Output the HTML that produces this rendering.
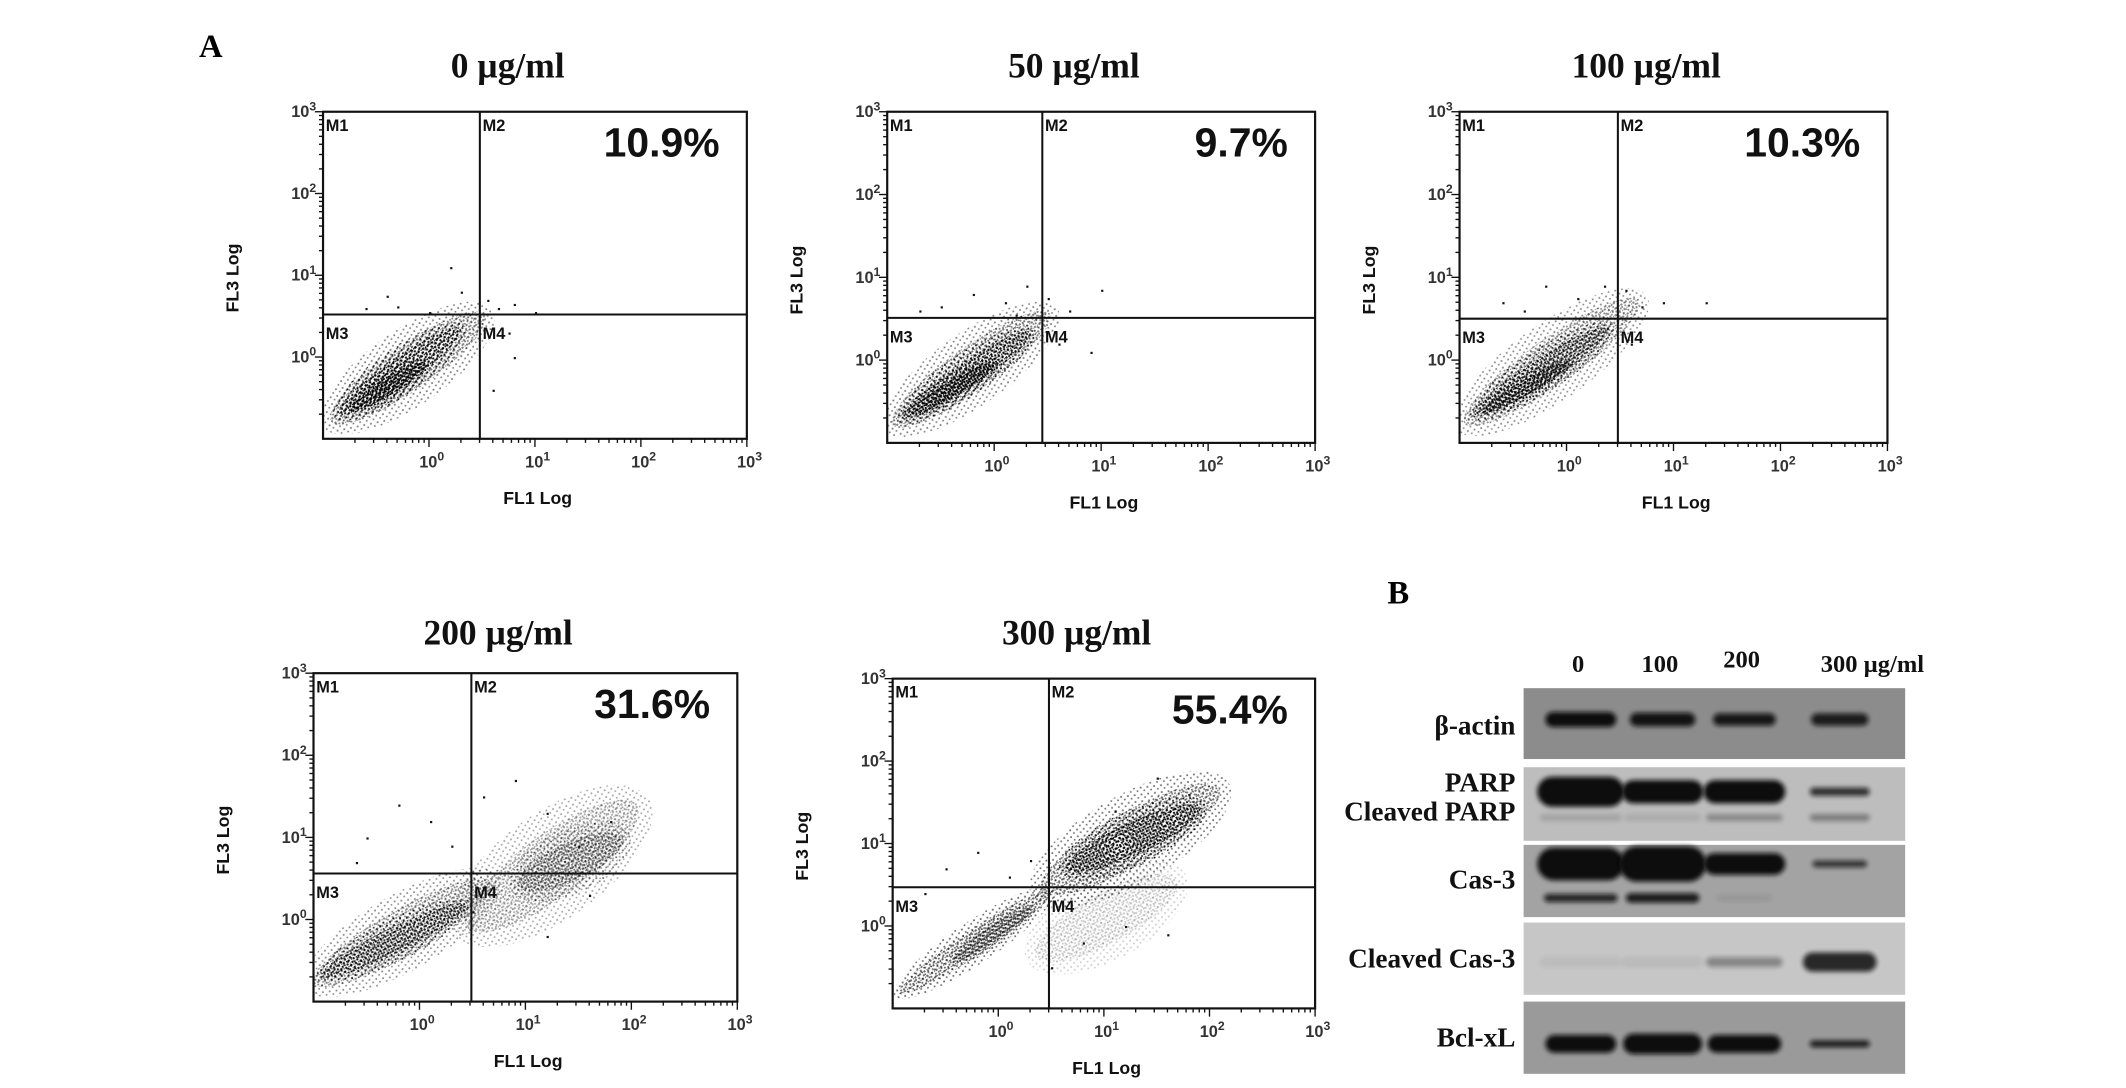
<!DOCTYPE html>
<html><head><meta charset="utf-8"><style>
html,body{margin:0;padding:0;background:#fff;}
svg{display:block;}
.serif{font-family:"Liberation Serif",serif;font-weight:bold;}
.sans{font-family:"Liberation Sans",sans-serif;font-weight:bold;}
</style></head><body>
<svg id="fig" xmlns="http://www.w3.org/2000/svg" width="2126" height="1088" viewBox="0 0 1560 798.4">
<defs>
<pattern id="stip" width="4" height="4" patternUnits="userSpaceOnUse">
<rect x="0" y="0" width="1.5" height="1.5" fill="#000"/><rect x="2.1" y="2.2" width="1.3" height="1.3" fill="#000"/><rect x="2.6" y="0.3" width="0.9" height="0.9" fill="#000"/>
</pattern>
<pattern id="stip2" width="5" height="5" patternUnits="userSpaceOnUse" patternTransform="rotate(23)">
<rect x="0.5" y="0.5" width="1.3" height="1.3" fill="#000"/><rect x="3" y="2.8" width="1.2" height="1.2" fill="#000"/>
</pattern>
<filter id="bandblur" x="-30%" y="-100%" width="160%" height="300%"><feGaussianBlur stdDeviation="1.8"/></filter>
</defs>
<text class="serif" x="146" y="42" font-size="24">A</text>
<text class="serif" x="1018" y="443" font-size="24">B</text>
<g id="plots"></g>
<g id="blot"></g>
</svg>
<script>
const NS="http://www.w3.org/2000/svg";
// ---- flow cytometry data (log10 units) ----
const plotTitles=["0 µg/ml","50 µg/ml","100 µg/ml","200 µg/ml","300 µg/ml"];
const percentLabels=["10.9%","9.7%","10.3%","31.6%","55.4%"];
const gateX=[0.48,0.45,0.48,0.49,0.48];
const gateY=[0.52,0.51,0.50,0.56,0.47];
// populations: [x1,y1,x2,y2,width(decades),density]
const pop0=[[-0.85,-0.72,0.45,0.45,0.36,0.5],[-0.8,-0.65,0.25,0.3,0.22,0.9],[-0.7,-0.6,-0.05,-0.1,0.14,1]];
const pop50=[[-0.88,-0.72,0.45,0.5,0.34,0.5],[-0.82,-0.66,0.3,0.3,0.2,0.9],[-0.75,-0.62,0.0,-0.05,0.12,1]];
const pop100=[[-0.88,-0.7,0.6,0.65,0.36,0.45],[-0.82,-0.62,0.35,0.35,0.2,0.85],[-0.75,-0.6,0.0,-0.05,0.12,0.9]];
const pop200=[[-0.92,-0.72,0.6,0.4,0.36,0.45],[-0.88,-0.66,0.4,0.15,0.2,0.85],[0.55,0.0,1.95,1.3,0.5,0.35],[1.0,0.45,1.85,0.95,0.3,0.55]];
const pop300=[[-0.9,-0.78,0.45,0.38,0.2,0.6],[-0.4,-0.4,0.3,0.2,0.12,0.7],[0.45,-0.3,1.6,0.5,0.4,0.2],[0.5,0.5,2.0,1.6,0.42,0.55],[0.7,0.72,1.85,1.4,0.26,0.95]];
const populations=[pop0,pop50,pop100,pop200,pop300];
// sparse events [x,y]
const sparse0=[[-0.6,0.6],[-0.3,0.62],[0.0,0.55],[0.2,1.1],[-0.4,0.75],[0.3,0.8],[0.55,0.7],[0.65,0.6],[0.8,0.65],[1.0,0.55],[0.75,0.3],[0.6,-0.4],[0.8,0.0]];
const sparse50=[[-0.5,0.65],[-0.2,0.8],[0.1,0.7],[0.3,0.9],[0.5,0.75],[0.7,0.6],[1.0,0.85],[-0.7,0.6],[0.2,0.55],[0.6,0.2],[0.9,0.1]];
const sparse100=[[-0.6,0.7],[-0.2,0.9],[0.1,0.75],[0.35,0.9],[0.55,0.85],[0.7,0.65],[0.9,0.7],[1.3,0.7],[0.6,0.2],[-0.4,0.6]];
const sparse200=[[-0.5,1.0],[-0.2,1.4],[0.1,1.2],[0.3,0.9],[0.6,1.5],[0.9,1.7],[1.2,1.3],[1.5,0.9],[1.8,1.2],[0.5,0.1],[1.2,-0.2],[1.6,0.3],[-0.6,0.7]];
const sparse300=[[-0.5,0.7],[-0.2,0.9],[0.1,0.6],[0.3,0.8],[-0.7,0.4],[1.5,1.8],[1.8,1.6],[1.1,1.4],[0.8,-0.2],[1.2,0.0],[1.6,-0.1],[0.5,-0.5]];
const sparseEvents=[sparse0,sparse50,sparse100,sparse200,sparse300];
const decadeLabels=["-1","0","1","2","3"];
// layout (thumbnail units)
const boxes=[[237,82,311,240],[651,82,314,243],[1071,82,314,243],[230,494,311,241],[655,498,310,242]];
const titleY=[57,57,57,473,473];

function mk(tag,attrs,parent,name,inter){const e=document.createElementNS(NS,tag);for(const k in attrs)e.setAttribute(k,attrs[k]);


parent.appendChild(e);return e;}
const plotsG=document.getElementById('plots');
boxes.forEach((b,i)=>{
  const [L,T,W,H]=b;const B=T+H;
  const sx=v=>L+(v+1)/4*W, sy=v=>B-(v+1)/4*H;
  const g=mk('g',{},plotsG,'flow-plot-'+i,false);
  const clipId='clip'+i;
  const cp=mk('clipPath',{id:clipId},g,'plot-clip',false);
  mk('rect',{x:L,y:T,width:W,height:H},cp,'clip-rect',false);
  const dg=mk('g',{'clip-path':'url(#'+clipId+')'},g,'event-layer',false);
  populations[i].forEach(p=>{
    const x1=sx(p[0]),y1=sy(p[1]),x2=sx(p[2]),y2=sy(p[3]);
    const cx=(x1+x2)/2,cy=(y1+y2)/2,len=Math.hypot(x2-x1,y2-y1);
    const ang=Math.atan2(y2-y1,x2-x1)*180/Math.PI;const w=p[4]*W/4;
    mk('ellipse',{cx:cx,cy:cy,rx:len/2+w*0.5,ry:w,transform:`rotate(${ang} ${cx} ${cy})`,fill:'url(#stip2)',opacity:Math.min(1,p[5])},dg,'event-population',false);
    mk('ellipse',{cx:cx,cy:cy,rx:len/2+w*0.25,ry:w*0.6,transform:`rotate(${ang} ${cx} ${cy})`,fill:'url(#stip)',opacity:p[5]},dg,'event-population-core',false);
  });
  sparseEvents[i].forEach(pt=>{mk('rect',{x:sx(pt[0]),y:sy(pt[1]),width:1.6,height:1.6,fill:'#111'},dg,'event-dot',false);});
  mk('rect',{x:L,y:T,width:W,height:H,fill:'none',stroke:'#111','stroke-width':1.6},g,'plot-frame',false);
  mk('line',{x1:sx(gateX[i]),x2:sx(gateX[i]),y1:T,y2:B,stroke:'#111','stroke-width':1.5},g,'gate-vertical',true);
  mk('line',{x1:L,x2:L+W,y1:sy(gateY[i]),y2:sy(gateY[i]),stroke:'#111','stroke-width':1.5},g,'gate-horizontal',true);
  for(let d=-1;d<3;d++){for(let m=1;m<10;m++){const v=d+Math.log10(m);if(v<=-1)continue;
    const len=m===1?6:3;
    mk('line',{x1:L,x2:L-len,y1:sy(v),y2:sy(v),stroke:'#111','stroke-width':1},g,'y-tick',false);
    mk('line',{x1:sx(v),x2:sx(v),y1:B,y2:B+len,stroke:'#111','stroke-width':1},g,'x-tick',false);}}
  mk('line',{x1:L,x2:L-6,y1:T,y2:T,stroke:'#111','stroke-width':1},g,'y-tick',false);
  mk('line',{x1:L+W,x2:L+W,y1:B,y2:B+6,stroke:'#111','stroke-width':1},g,'x-tick',false);
  decadeLabels.forEach((lab,k)=>{const v=+lab;if(v<0)return;
    const ty=mk('text',{x:L-5,y:sy(v)+4,'text-anchor':'end','font-size':12,class:'sans',fill:'#333'},g,'y-tick-label',false);
    ty.innerHTML='10<tspan dy="-5" font-size="9">'+lab+'</tspan>';
    const tx=mk('text',{x:sx(v)+2,y:B+21,'text-anchor':'middle','font-size':12,class:'sans',fill:'#333'},g,'x-tick-label',false);
    tx.innerHTML='10<tspan dy="-5" font-size="9">'+lab+'</tspan>';
  });
  const qy=sy(gateY[i]);
  [['M1',L+2,T+14],['M2',sx(gateX[i])+2,T+14],['M3',L+2,qy+18],['M4',sx(gateX[i])+2,qy+18]].forEach(q=>{
    const t=mk('text',{x:q[1],y:q[2],'font-size':12,class:'sans',fill:'#111'},g,'gate-label-'+q[0].toLowerCase(),false);t.textContent=q[0];});
  const pc=mk('text',{x:L+W-20,y:T+33,'text-anchor':'end','font-size':30,class:'sans',fill:'#111'},g,'percent-label',false);pc.textContent=percentLabels[i];
  const tt=mk('text',{x:L+W/2-20,y:titleY[i],'text-anchor':'middle','font-size':26,class:'serif',fill:'#111'},g,'plot-title',false);tt.textContent=plotTitles[i];
  const xl=mk('text',{x:L+W/2+2,y:B+48,'text-anchor':'middle','font-size':13,class:'sans',fill:'#111'},g,'x-axis-title',false);xl.textContent='FL1 Log';
  const yl=mk('text',{x:0,y:0,'text-anchor':'middle','font-size':13,class:'sans',fill:'#111',transform:`translate(${L-62},${T+H/2+2}) rotate(-90)`},g,'y-axis-title',false);yl.textContent='FL3 Log';
});

// ---- western blot ----
const laneLabels=["0","100","200","300 µg/ml"];
const rowNames=["β-actin","PARP","Cas-3","Cleaved Cas-3","Bcl-xL"];
const bandActin=[1,0.95,0.92,0.88];
const bandParp=[1,1,1,0.8];
const bandParpCleaved=[0.15,0.1,0.3,0.38];
const bandCas3=[1,1,1,0.75];
const bandCas3Low=[0.85,0.9,0.08,0];
const bandCleavedCas3=[0.05,0.06,0.35,0.85];
const bandBcl=[1,1,1,0.9];
const blotG=document.getElementById('blot');
const laneX=[1160,1220,1280,1350];
const rows=[[505,557,'#8c8c8c'],[563,617,'#bdbdbd'],[620,673,'#a3a3a3'],[677,730,'#c6c6c6'],[735,788,'#9a9a9a']];
rows.forEach((r,i)=>{mk('rect',{x:1118,y:r[0],width:280,height:r[1]-r[0],fill:r[2]},blotG,'blot-panel-'+i,false);});
laneLabels.forEach((l,i)=>{const t=mk('text',{x:i===3?1374:laneX[i]-2,y:i===2?490:493,'text-anchor':'middle','font-size':18,class:'serif',fill:'#111'},blotG,'lane-label',false);t.textContent=l;});
[["β-actin",539],["PARP",581],["Cleaved PARP",602],["Cas-3",652],["Cleaved Cas-3",710],["Bcl-xL",768]].forEach(r=>{
  const t=mk('text',{x:1112,y:r[1],'text-anchor':'end','font-size':20,class:'serif',fill:'#111'},blotG,'row-label',false);t.textContent=r[0];});
function bands(vals,cy,thick,widths,name){vals.forEach((v,i)=>{if(v<=0)return;
  mk('rect',{x:laneX[i]-widths[i]/2,y:cy-thick[i]/2,width:widths[i],height:thick[i],rx:thick[i]/2,fill:'#0d0d0d',opacity:v,filter:'url(#bandblur)'},blotG,name,false);});}
bands(bandActin,528,[11,10,9,9],[52,48,46,42],'band-actin');
bands(bandParp,581,[22,17,17,6],[64,60,60,44],'band-parp');
bands(bandParpCleaved,600,[5,5,5,5],[60,56,56,44],'band-cleaved-parp');
bands(bandCas3,634,[24,26,16,5],[64,64,60,40],'band-cas3');
bands(bandCas3Low,659,[6,7,5,5],[54,54,40,40],'band-cas3-lower');
bands(bandCleavedCas3,706,[8,8,7,14],[60,60,56,54],'band-cleaved-cas3');
bands(bandBcl,766,[13,15,13,5],[52,58,54,44],'band-bclxl');
</script>
</body></html>
